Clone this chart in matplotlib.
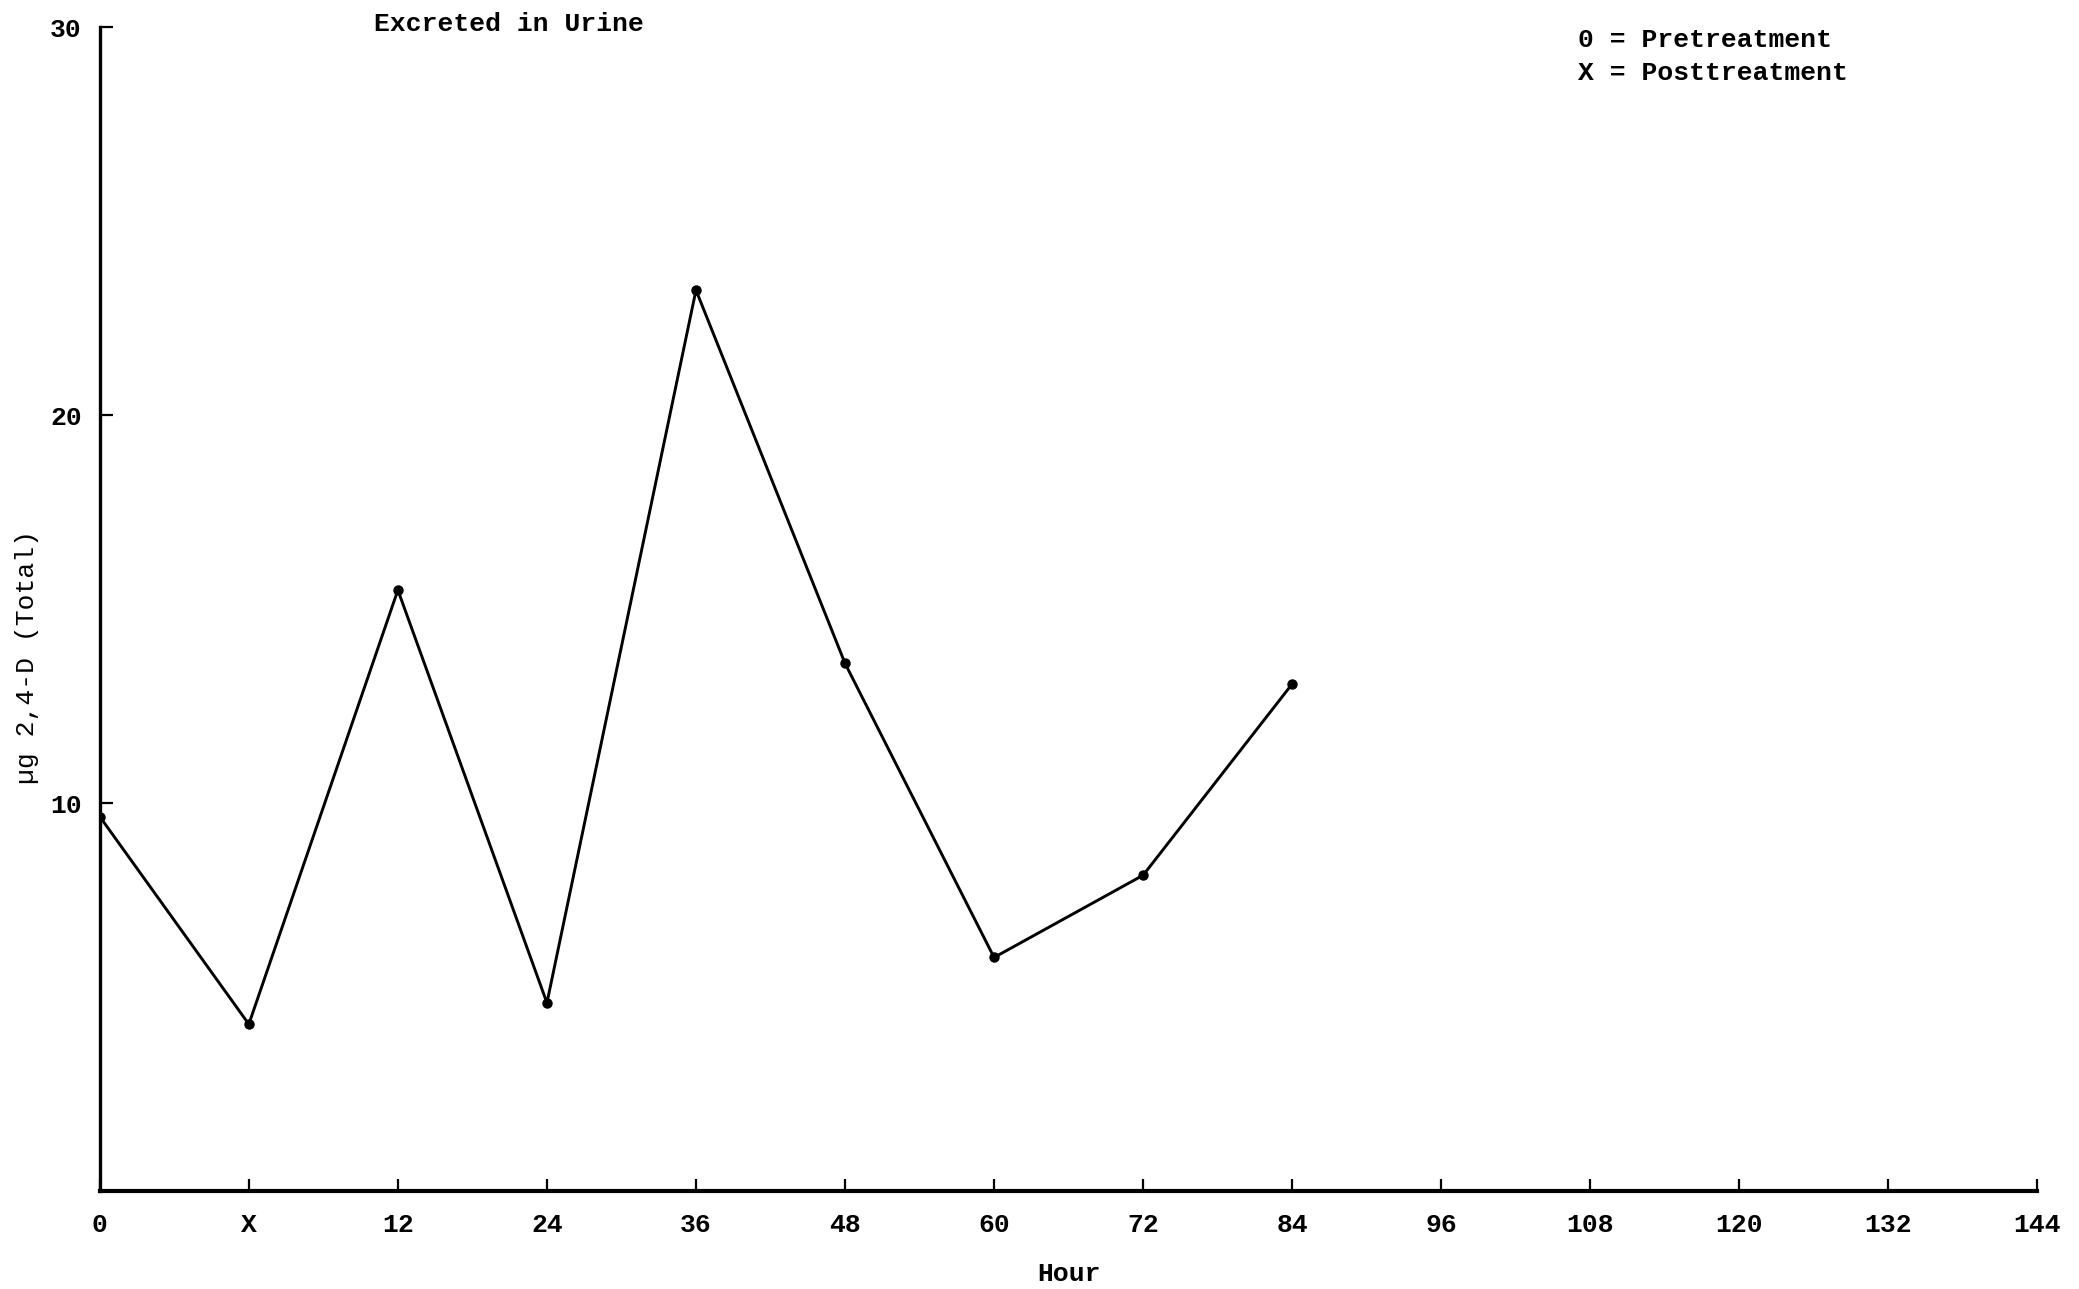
import numpy as np
import matplotlib
matplotlib.use('Agg')
import matplotlib.pyplot as plt

# tick labels along the hour axis (evenly spaced, "X" = posttreatment start)
hour_labels = ['0', 'X', '12', '24', '36', '48', '60', '72', '84',
               '96', '108', '120', '132', '144']
# total ug 2,4-D excreted per collection
ug_total = [9.65, 4.3, 15.49, 4.85, 23.22, 13.6, 6.02, 8.14, 13.07]
y_ticks = [10, 20, 30]

FONT = 'Liberation Mono'

fig = plt.figure(figsize=(20.79, 12.89), dpi=100)
ax = fig.add_axes([0.048, 0.076, 0.932, 0.903])

x = np.arange(len(ug_total))
ax.plot(x, ug_total, color='black', lw=2.1, marker='o', markersize=6.5,
        markerfacecolor='black', markeredgecolor='black')

ax.set_xlim(0, len(hour_labels) - 1)
ax.set_ylim(0, 30)
ax.set_xticks(np.arange(len(hour_labels)))
ax.set_xticklabels(hour_labels, fontfamily=FONT, fontweight='bold', fontsize=19)
ax.set_yticks(y_ticks)
ax.set_yticklabels([str(v) for v in y_ticks], fontfamily=FONT, fontweight='bold', fontsize=19)

ax.tick_params(axis='both', direction='in', length=9, width=1.6, color='black')
ax.tick_params(axis='x', pad=16)
ax.tick_params(axis='y', pad=13)

# only left and bottom lines, like the typed original
for s in ['top', 'right']:
    ax.spines[s].set_visible(False)
ax.spines['left'].set_linewidth(2.4)
ax.spines['bottom'].set_linewidth(3.0)

ax.set_xlabel('Hour', fontfamily=FONT, fontweight='bold', fontsize=19, labelpad=18)
fig.text(0.013, 0.49, 'µg 2,4-D (Total)', rotation=90, ha='center', va='center',
         fontfamily=FONT, fontsize=19)

fig.text(0.18, 0.981, 'Excreted in Urine', ha='left', va='center',
         fontfamily=FONT, fontweight='bold', fontsize=19)
fig.text(0.759, 0.969, '0 = Pretreatment', ha='left', va='center',
         fontfamily=FONT, fontweight='bold', fontsize=19)
fig.text(0.759, 0.943, 'X = Posttreatment', ha='left', va='center',
         fontfamily=FONT, fontweight='bold', fontsize=19)

fig.savefig('out.png', dpi=100, facecolor='white')
plt.close(fig)
